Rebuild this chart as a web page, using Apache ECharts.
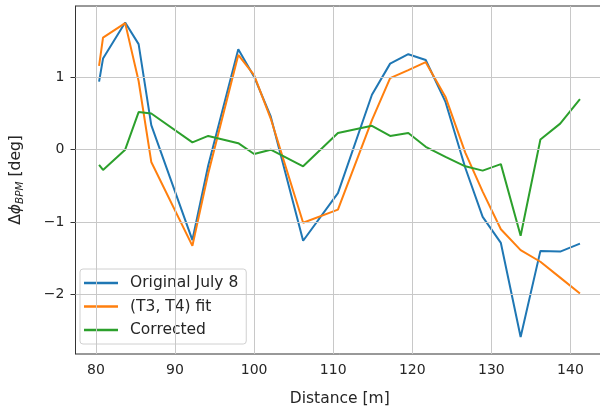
<!DOCTYPE html>
<html>
<head>
<meta charset="utf-8">
<script src="https://cdn.jsdelivr.net/npm/echarts@6/dist/echarts.min.js"></script>
<style>
  html, body { margin: 0; padding: 0; background: #fff; overflow: hidden; }
  #chart { width: 606px; height: 412px; }
</style>
</head>
<body>
<div id="chart"></div>
<script>
// BPM phase difference along the beamline
const distance = [80.4, 80.9, 83.7, 85.4, 87.0, 92.2, 94.2, 98.0, 100.0, 102.1, 106.2, 110.6,
                  114.9, 117.2, 119.5, 121.7, 124.2, 126.7, 128.9, 131.2, 133.7, 136.2, 138.7, 141.2];
const originalJuly8 = [0.94, 1.26, 1.76, 1.46, 0.34, -1.25, -0.22, 1.39, 1.01, 0.46, -1.26, -0.60,
                       0.76, 1.19, 1.32, 1.24, 0.66, -0.25, -0.93, -1.29, -2.59, -1.40, -1.41, -1.30];
const t3t4Fit = [1.16, 1.55, 1.75, 0.95, -0.17, -1.33, -0.33, 1.31, 1.03, 0.43, -1.01, -0.83,
                 0.41, 0.99, 1.10, 1.21, 0.73, -0.04, -0.58, -1.10, -1.39, -1.55, -1.77, -1.99];
const corrected = [-0.21, -0.28, 0.00, 0.52, 0.50, 0.10, 0.19, 0.09, -0.06, 0.00, -0.23, 0.23,
                   0.33, 0.19, 0.23, 0.04, -0.10, -0.23, -0.29, -0.20, -1.19, 0.14, 0.36, 0.70];

const xTicks = [80, 90, 100, 110, 120, 130, 140];
const yTicks = [-2, -1, 0, 1];
const seriesNames = ['Original July 8', '(T3, T4) fit', 'Corrected'];

const FONT = 'DejaVu Sans';
const TEXT = '#262626';
const GRID = '#c8c8c8';
const TICK_SIZE = 14;
const LABEL_SIZE = 15.5;

const pairs = (ys) => distance.map((x, i) => [x, ys[i]]);
const fmt = (v) => String(v).replace('-', '\u2212');

function line(name, ys, color) {
  return {
    name, type: 'line', data: pairs(ys),
    showSymbol: false, symbol: 'none',
    lineStyle: { color, width: 2 },
    itemStyle: { color },
    animation: false
  };
}

const chart = echarts.init(document.getElementById('chart'), null, { renderer: 'canvas' });

const series = [
  line(seriesNames[0], originalJuly8, '#1f77b4'),
  line(seriesNames[1], t3t4Fit, '#ff7f0e'),
  line(seriesNames[2], corrected, '#2ca02c')
];

chart.setOption({
  backgroundColor: '#fff',
  animation: false,
  grid: { left: 71, right: 2, top: 6, bottom: 58, show: true, borderColor: '#333', borderWidth: 1, backgroundColor: 'transparent' },
  xAxis: {
    type: 'value', min: 77.42, max: 144.24,
    name: 'Distance [m]', nameLocation: 'middle', nameGap: 37,
    nameTextStyle: { fontFamily: FONT, fontSize: LABEL_SIZE, color: TEXT },
    axisLine: { show: true, lineStyle: { color: '#333', width: 1 } },
    axisTick: { show: true, length: 5, lineStyle: { color: '#333' }, customValues: xTicks },
    axisLabel: { fontFamily: FONT, fontSize: TICK_SIZE, color: TEXT, margin: 9, customValues: xTicks, formatter: fmt },
    splitLine: { show: false }
  },
  yAxis: {
    type: 'value', min: -2.826, max: 1.987,
    name: '{d|Δ}{p|ϕ}{s|BPM}{d| [deg]}', nameLocation: 'middle', nameGap: 50, nameRotate: 90,
    nameTextStyle: {
      fontFamily: FONT, fontSize: LABEL_SIZE, color: TEXT,
      rich: {
        d: { fontFamily: FONT, fontSize: LABEL_SIZE, color: TEXT, lineHeight: 19, verticalAlign: 'middle' },
        p: { fontFamily: FONT, fontSize: LABEL_SIZE, fontStyle: 'italic', color: TEXT, lineHeight: 19, verticalAlign: 'middle' },
        s: { fontFamily: FONT, fontSize: 10.5, fontStyle: 'italic', color: TEXT, lineHeight: 19, verticalAlign: 'bottom', padding: [6, 0, 0, 0] }
      }
    },
    axisLine: { show: true, lineStyle: { color: '#333', width: 1 } },
    axisTick: { show: true, length: 5, lineStyle: { color: '#333' }, customValues: yTicks },
    axisLabel: { fontFamily: FONT, fontSize: TICK_SIZE, color: TEXT, margin: 11, customValues: yTicks, formatter: fmt },
    splitLine: { show: false }
  },
  legend: {
    orient: 'vertical', left: 80, top: 269,
    data: seriesNames,
    icon: 'rect', itemWidth: 34, itemHeight: 2.5, itemGap: 7.5,
    padding: [6, 8, 6, 4],
    backgroundColor: 'rgba(255,255,255,0.8)',
    borderColor: '#d0d0d0', borderWidth: 1, borderRadius: 3,
    textStyle: { fontFamily: FONT, fontSize: LABEL_SIZE, color: TEXT, lineHeight: 16, padding: [0, 0, 0, 7] }
  },
  series: [
    // grid lines at the labelled tick values
    {
      type: 'line', data: [], silent: true, z: 1,
      markLine: {
        silent: true, symbol: 'none', label: { show: false }, animation: false,
        lineStyle: { color: GRID, width: 1, type: 'solid' },
        data: xTicks.map(v => ({ xAxis: v })).concat(yTicks.map(v => ({ yAxis: v })))
      }
    },
    ...series
  ]
});
</script>
</body>
</html>
